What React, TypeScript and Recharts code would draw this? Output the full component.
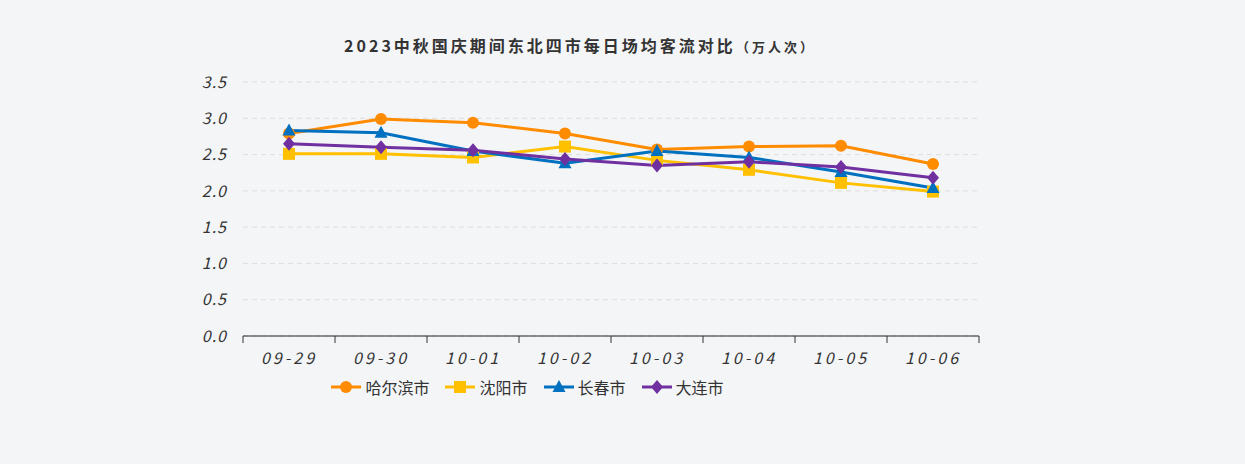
import React from "react";
import { CartesianGrid, Line, LineChart, XAxis, YAxis } from "recharts";

const dates = ["09-29", "09-30", "10-01", "10-02", "10-03", "10-04", "10-05", "10-06"];
const harbin = [2.79, 2.99, 2.94, 2.79, 2.57, 2.61, 2.62, 2.37];
const shenyang = [2.51, 2.51, 2.46, 2.61, 2.42, 2.29, 2.11, 1.99];
const changchun = [2.83, 2.8, 2.55, 2.38, 2.55, 2.46, 2.26, 2.04];
const dalian = [2.65, 2.6, 2.56, 2.44, 2.35, 2.4, 2.33, 2.18];
const yTicks = [0, 0.5, 1, 1.5, 2, 2.5, 3, 3.5];

const series = [
  { key: "哈尔滨市", values: harbin, color: "#FF8C00", shape: "circle" },
  { key: "沈阳市", values: shenyang, color: "#FFC000", shape: "square" },
  { key: "长春市", values: changchun, color: "#0070C0", shape: "triangle" },
  { key: "大连市", values: dalian, color: "#7030A0", shape: "diamond" },
];

const data = dates.map((d, i) => {
  const row: Record<string, string | number> = { date: d };
  series.forEach((s) => (row[s.key] = s.values[i]));
  return row;
});

const FONT = '"Noto Sans CJK SC", "DejaVu Sans", sans-serif';
const W = 1245;
const H = 464;
const M = { top: 82, right: 266, left: 183, bottom: 98 };
const Y_W = 60;
const BAND = (W - M.left - M.right - Y_W) / dates.length;

function marker(shape: string, color: string, cx: number, cy: number, key?: string) {
  if (shape === "circle") return <circle key={key} cx={cx} cy={cy} r={6} fill={color} />;
  if (shape === "square")
    return <rect key={key} x={cx - 6} y={cy - 6} width={12} height={12} fill={color} />;
  if (shape === "triangle")
    return <path key={key} d={`M${cx},${cy - 7} L${cx + 6.5},${cy + 5} L${cx - 6.5},${cy + 5} Z`} fill={color} />;
  return <path key={key} d={`M${cx},${cy - 7} L${cx + 6},${cy} L${cx},${cy + 7} L${cx - 6},${cy} Z`} fill={color} />;
}

function makeDot(shape: string, color: string) {
  return (p: any) => {
    if (p.cx == null || p.cy == null) return <g key={p.index} />;
    return marker(shape, color, p.cx, p.cy, `${shape}-${p.index}`);
  };
}

// label centred in the band, tick marks on the band edges
function XTick(p: any) {
  const { x, y, payload, index } = p;
  const left = x - BAND / 2;
  const top = y - 8;
  return (
    <g>
      <line x1={left} y1={top} x2={left} y2={top + 7} stroke="#333" />
      {index === dates.length - 1 && (
        <line x1={left + BAND} y1={top} x2={left + BAND} y2={top + 7} stroke="#333" />
      )}
      <text
        x={x}
        y={y + 20}
        textAnchor="middle"
        fill="#333"
        fontSize={16}
        fontStyle="italic"
        letterSpacing={3}
        fontFamily={FONT}
      >
        {payload.value}
      </text>
    </g>
  );
}

export default function App() {
  return (
    <div style={{ position: "absolute", left: 0, top: 0, width: W, height: H, background: "#F4F5F7" }}>
      <div
        style={{
          position: "absolute",
          top: 33,
          left: 5,
          width: 1150,
          textAlign: "center",
          fontFamily: FONT,
          fontWeight: "bold",
          fontSize: 16,
          letterSpacing: 3,
          color: "#333",
        }}
      >
        2023中秋国庆期间东北四市每日场均客流对比<span style={{ fontSize: 13 }}>（万人次）</span>
      </div>
      <LineChart width={W} height={H} data={data} margin={M}>
        <CartesianGrid stroke="#DDDDDD" strokeDasharray="5 4" vertical={false} />
        <XAxis
          dataKey="date"
          scale="band"
          tick={<XTick />}
          tickLine={false}
          axisLine={{ stroke: "#222" }}
          height={30}
          interval={0}
        />
        <YAxis
          domain={[0, 3.5]}
          ticks={yTicks}
          tickFormatter={(v: number) => v.toFixed(1)}
          tick={{ fill: "#333", fontSize: 16, fontStyle: "italic", letterSpacing: 1, fontFamily: FONT }}
          tickLine={false}
          axisLine={false}
          width={Y_W}
          tickMargin={10}
        />
        {series.map((s) => (
          <Line
            key={s.key}
            dataKey={s.key}
            stroke={s.color}
            strokeWidth={3}
            dot={makeDot(s.shape, s.color)}
            activeDot={false}
            isAnimationActive={false}
          />
        ))}
      </LineChart>
      <div
        style={{
          position: "absolute",
          top: 375,
          left: 0,
          width: 1055,
          display: "flex",
          justifyContent: "center",
          gap: 16,
          fontFamily: FONT,
          fontSize: 16,
          color: "#333",
        }}
      >
        {series.map((s) => (
          <div key={s.key} style={{ display: "flex", alignItems: "center", gap: 4 }}>
            <svg width={30} height={16}>
              <line x1={0} y1={8} x2={30} y2={8} stroke={s.color} strokeWidth={3} />
              {marker(s.shape, s.color, 15, 8)}
            </svg>
            <span>{s.key}</span>
          </div>
        ))}
      </div>
    </div>
  );
}
